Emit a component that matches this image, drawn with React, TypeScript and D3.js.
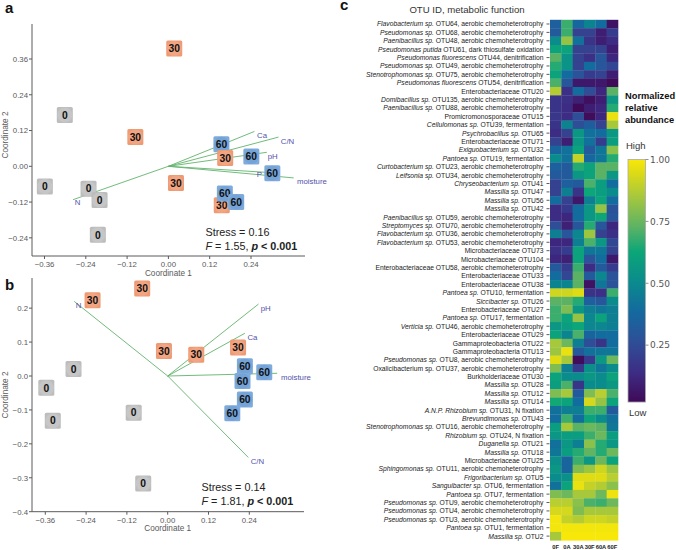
import React from "react";
import * as d3 from "d3";

const W = 676, H = 550;
const FONT = "'Liberation Sans', Arial, sans-serif";
const AXC = "#5a5a5a";
const LABC = "#5252ac";
const GREEN = "#62b36c";

// Panel a
const aGroups = [30, 0, 0, 0, 0, 0, 60, 60, 60, 60, 60, 30, 30, 30, 30];
const aX = [0.155, -0.301, -0.359, -0.232, -0.2, -0.205, 0.154, 0.241, 0.302, 0.164, 0.197, 0.017, -0.096, 0.165, 0.022];
const aY = [-0.131, 0.172, -0.068, -0.075, -0.113, -0.23, 0.074, 0.033, -0.023, -0.091, -0.12, 0.395, 0.098, 0.028, -0.056];
const aVecNames = ["Ca", "C/N", "pH", "P", "moisture", "N"];
const aVecX = [0.25, 0.32, 0.286, 0.281, 0.364, -0.277];
const aVecY = [0.117, 0.098, 0.047, -0.02, -0.039, -0.112];
const aLabX = [0.272, 0.346, 0.303, 0.264, 0.417, -0.264];
const aLabY = [0.106, 0.084, 0.035, -0.028, -0.051, -0.122];
const aXTicks = [-0.36, -0.24, -0.12, 0, 0.12, 0.24];
const aYTicks = [0.36, 0.24, 0.12, 0, -0.12, -0.24];

// Panel b
const bGroups = [30, 30, 30, 30, 30, 0, 0, 0, 0, 0, 60, 60, 60, 60, 60];
const bX = [-0.075, -0.221, -0.011, 0.084, 0.207, -0.277, -0.357, -0.338, -0.1, -0.072, 0.227, 0.284, 0.22, 0.227, 0.19];
const bY = [0.258, 0.223, 0.074, 0.063, 0.084, 0.021, -0.035, -0.132, -0.108, -0.317, 0.029, 0.011, -0.015, -0.069, -0.11];
const bVecNames = ["pH", "Ca", "moisture", "C/N", "N"];
const bVecX = [0.267, 0.227, 0.322, 0.237, -0.275];
const bVecY = [0.212, 0.126, 0.008, -0.24, 0.22];
const bLabX = [0.288, 0.249, 0.377, 0.264, -0.262];
const bLabY = [0.2, 0.114, -0.005, -0.251, 0.21];
const bXTicks = [-0.36, -0.24, -0.12, 0, 0.12, 0.24];
const bYTicks = [0.2, 0.1, 0, -0.1, -0.2, -0.3, -0.4];

// Panel c
const columns = ["0F", "0A", "30A", "30F", "60A", "60F"];
const otuItalic = [
  "Flavobacterium sp.", "Pseudomonas sp.", "Paenibacillus sp.", "Pseudomonas putida", "Pseudomonas fluorescens", "Pseudomonas sp.", "Stenotrophomonas sp.", "Pseudomonas fluorescens", "",
  "Domibacillus sp.", "Paenibacillus sp.", "", "Cellulomonas sp.", "Psychrobacillus sp.", "", "Exiguobacterium sp.", "Pantoea sp.", "Curtobacterium sp.", "Leifsonia sp.", "Chryseobacterium sp.",
  "Massilia sp.", "Massilia sp.", "Massilia sp.", "Paenibacillus sp.", "Streptomyces sp.", "Flavobacterium sp.", "Flavobacterium sp.", "", "", "", "", "",
  "Pantoea sp.", "Siccibacter sp.", "", "Pantoea sp.", "Verticia sp.", "", "", "", "Pseudomonas sp.", "", "", "Massilia sp.", "Massilia sp.", "Massilia sp.",
  "A.N.P. Rhizobium sp.", "Brevundimonas sp.", "Stenotrophomonas sp.", "Rhizobium sp.", "Duganella sp.", "Massilia sp.", "", "Sphingomonas sp.", "Frigoribacterium sp.", "Sanguibacter sp.",
  "Pantoea sp.", "Pseudomonas sp.", "Pseudomonas sp.", "Pseudomonas sp.", "Pantoea sp.", "Massilia sp.",
];
const otuRest = [
  "OTU64, aerobic chemoheterotrophy", "OTU68, aerobic chemoheterotrophy", "OTU48, aerobic chemoheterotrophy", "OTU61, dark thiosulfate oxidation", "OTU44, denitrification", "OTU49, aerobic chemoheterotrophy", "OTU75, aerobic chemoheterotrophy", "OTU54, denitrification", "Enterobacteriaceae OTU20",
  "OTU135, aerobic chemoheterotrophy", "OTU88, aerobic chemoheterotrophy", "Promicromonosporaceae OTU15", "OTU39, fermentation", "OTU65", "Enterobacteriaceae OTU71", "OTU32", "OTU19, fermentation", "OTU23, aerobic chemoheterotrophy", "OTU34, aerobic chemoheterotrophy", "OTU41",
  "OTU47", "OTU56", "OTU42", "OTU59, aerobic chemoheterotrophy", "OTU70, aerobic chemoheterotrophy", "OTU36, aerobic chemoheterotrophy", "OTU53, aerobic chemoheterotrophy", "Microbacteriaceae OTU73", "Microbacteriaceae OTU104", "Enterobacteriaceae OTU58, aerobic chemoheterotrophy", "Enterobacteriaceae OTU33", "Enterobacteriaceae OTU38",
  "OTU10, fermentation", "OTU26", "Enterobacteriaceae OTU27", "OTU17, fermentation", "OTU46, aerobic chemoheterotrophy", "Enterobacteriaceae OTU29", "Gammaproteobacteria OTU22", "Gammaproteobacteria OTU13", "OTU8, aerobic chemoheterotrophy", "Oxalicibacterium sp. OTU37, aerobic chemoheterotrophy", "Burkholderiaceae OTU30", "OTU28", "OTU12", "OTU14",
  "OTU31, N fixation", "OTU43", "OTU16, aerobic chemoheterotrophy", "OTU24, N fixation", "OTU21", "OTU18", "Microbacteriaceae OTU25", "OTU11, aerobic chemoheterotrophy", "OTU5", "OTU6, fermentation",
  "OTU7, fermentation", "OTU9, aerobic chemoheterotrophy", "OTU4, aerobic chemoheterotrophy", "OTU3, aerobic chemoheterotrophy", "OTU1, fermentation", "OTU2",
];
const abundance = [
  [.33, .68, .36, .47, .38, .03], [.30, .68, .2, .2, .07, .18], [.5, .82, .4, .15, .07, .12], [.6, .6, .2, .2, .2, .07],
  [.72, .53, .2, .13, .28, .1], [.65, .53, .2, .38, .28, .22], [.6, .38, .27, .18, .2, .07], [.7, .28, .05, .05, .05, 0],
  [.87, .13, .38, .25, .1, .72], [.15, .13, .08, .02, .07, .55], [.15, .12, 0, .07, .1, .65], [.16, .12, .25, .01, .1, .97],
  [.15, .47, .25, .32, .2, .85], [.12, .2, .55, .4, .38, .55], [.2, .07, .55, .4, .18, .58], [.35, .4, .6, .3, .42, .8],
  [.5, .4, .9, .36, .42, .65], [.33, .3, .65, .6, .72, .72], [.3, .3, .55, .6, .72, .55], [.2, .33, .3, .7, .58, .38],
  [.2, .45, .15, .62, .58, .5], [.38, .2, .05, .45, .6, .38], [.12, .17, .38, .55, .82, .27], [.12, .1, .38, .55, .62, .28],
  [.25, .08, .28, .65, .28, .1], [.45, .28, .48, .83, .2, .13], [.1, .1, .45, .7, .55, .22], [.13, .18, .6, .42, .42, .2],
  [.1, .08, .6, .27, .38, .05], [.3, .18, .68, .12, .3, .18], [.38, .22, .72, .3, .48, .27], [.47, .47, .72, .03, .42, .27],
  [.92, .92, .95, .15, .13, .68], [.72, .72, .65, .33, .28, .5], [.68, .78, .55, .45, .42, .45], [.68, .6, .82, .48, .6, .45],
  [.55, .58, .62, .48, .48, .45], [.6, .47, .7, .35, .38, .38], [.85, .75, .45, .25, .15, .38], [.83, .97, .3, .4, .42, .42],
  [.95, .85, .01, .17, .55, .75], [.78, .45, .17, .52, .42, .5], [.6, .5, .5, .55, .5, .6], [.58, .7, .15, .5, .5, .55],
  [.78, .85, .3, .78, .88, .7], [.63, .6, .38, .93, .82, .6], [.4, .45, .45, .68, .68, .3], [.38, .68, .38, .6, .5, .4],
  [.58, .85, .72, .75, .72, .42], [.55, .58, .58, .68, .75, .58], [.4, .55, .45, .8, .65, .55], [.42, .58, .65, .73, .65, .75],
  [.52, .35, .68, .55, .75, .6], [.55, .35, .78, .83, .92, .83], [.5, .52, .95, .95, .95, .88], [.4, .6, .97, .9, .87, .8],
  [.78, .75, .85, .85, .75, .98], [.88, .88, .8, .7, .68, .75], [.93, .93, .78, .85, .85, .85], [.99, .9, .87, .92, .92, .9],
  [.99, .99, .99, .99, .99, .99], [.85, 1, 1, 1, 1, 1],
];
const legendTicks = [1, 0.75, 0.5, 0.25];
const colorStops = [0, 0.12, 0.25, 0.37, 0.5, 0.62, 0.72, 0.85, 0.95, 1];
const colorValues = ["#3f0a58", "#3d2c84", "#2e4f98", "#14699f", "#0a8c8c", "#0ca678", "#5bb265", "#a8c83c", "#e0dc14", "#f7e80a"];

const groupStyle: Record<number, { sq: string; circ: string }> = {
  0: { sq: "#bdbdbd", circ: "#c6c6c6" },
  30: { sq: "#ee9a73", circ: "#f2a583" },
  60: { sq: "#7fabdc", circ: "#74a3d8" },
};

type ScatterProps = {
  groups: number[]; xs: number[]; ys: number[];
  vecNames: string[]; vecX: number[]; vecY: number[]; labX: number[]; labY: number[];
  xTicks: number[]; yTicks: number[]; yFmt: string;
  xScale: d3.ScaleLinear<number, number>; yScale: d3.ScaleLinear<number, number>;
  axisTop: number; axisBottom: number; axisRight: number; titleY: number; yTitleCenter: number;
  stressX: number; stressY: number; stress: string; fStat: string;
};

function Scatter(p: ScatterProps) {
  const left = 32;
  const ox = p.xScale(0), oy = p.yScale(0);
  return (
    <g fontFamily={FONT}>
      <line x1={left} x2={left} y1={p.axisTop} y2={p.axisBottom} stroke={AXC} />
      <line x1={left} x2={p.axisRight} y1={p.axisBottom} y2={p.axisBottom} stroke={AXC} />
      {p.xTicks.map((t) => (
        <g key={t}>
          <line x1={p.xScale(t)} x2={p.xScale(t)} y1={p.axisBottom} y2={p.axisBottom + 3} stroke={AXC} />
          <text x={p.xScale(t)} y={p.axisBottom + 11} fontSize={7.8} textAnchor="middle" fill={AXC}>{d3.format(".2f")(t)}</text>
        </g>
      ))}
      {p.yTicks.map((t) => (
        <g key={t}>
          <line x1={left - 3} x2={left} y1={p.yScale(t)} y2={p.yScale(t)} stroke={AXC} />
          <text x={left - 4} y={p.yScale(t) + 2.8} fontSize={7.8} textAnchor="end" fill={AXC}>{d3.format(p.yFmt)(t)}</text>
        </g>
      ))}
      <text x={ox} y={p.titleY} fontSize={8.2} textAnchor="middle" fill={AXC}>Coordinate 1</text>
      <text transform={`translate(7.5,${p.yTitleCenter}) rotate(-90)`} fontSize={8.2} textAnchor="middle" fill={AXC}>Coordinate 2</text>
      {p.vecNames.map((n, i) => (
        <line key={n} x1={ox} y1={oy} x2={p.xScale(p.vecX[i])} y2={p.yScale(p.vecY[i])} stroke={GREEN} strokeWidth={0.9} />
      ))}
      {p.groups.map((g, i) => {
        const cx = p.xScale(p.xs[i]), cy = p.yScale(p.ys[i]);
        return (
          <g key={i}>
            <rect x={cx - 8} y={cy - 8} width={16} height={16} rx={1.5} fill={groupStyle[g].sq} />
            <circle cx={cx} cy={cy} r={7.5} fill={groupStyle[g].circ} />
            <text x={cx} y={cy + 3.7} fontSize={10.3} fontWeight="bold" textAnchor="middle" fill="#111">{g}</text>
          </g>
        );
      })}
      {p.vecNames.map((n, i) => (
        <text key={n} x={p.xScale(p.labX[i])} y={p.yScale(p.labY[i]) + 2.8} fontSize={7.8} textAnchor="middle" fill={LABC}>{n}</text>
      ))}
      <text x={p.stressX} y={p.stressY} fontSize={10.8} fill="#222">{p.stress}</text>
      <text x={p.stressX} y={p.stressY + 14} fontSize={10.8} fill="#222">
        <tspan fontStyle="italic">F</tspan>{` = ${p.fStat}, `}
        <tspan fontWeight="bold" fontStyle="italic">p</tspan>
        <tspan fontWeight="bold">{" < 0.001"}</tspan>
      </text>
    </g>
  );
}

export default function App() {
  const axScale = d3.scaleLinear().domain([0, 0.24]).range([168.4, 251]);
  const ayScale = d3.scaleLinear().domain([0, 0.36]).range([166.3, 59]);
  const bxScale = d3.scaleLinear().domain([0, 0.24]).range([167.7, 249.3]);
  const byScale = d3.scaleLinear().domain([0, -0.4]).range([376, 511.7]);

  const rowIdx = otuRest.map((_, i) => i);
  const rowScale = d3.scaleBand<number>().domain(rowIdx).range([19.8, 540.3]);
  const colScale = d3.scaleBand<string>().domain(columns).range([550, 618]);
  const color = d3.scaleLinear<string>().domain(colorStops).range(colorValues).interpolate(d3.interpolateRgb);
  const legendY = d3.scaleLinear().domain([0, 1]).range([407, 159.5]);

  return (
    <svg width={W} height={H} viewBox={`0 0 ${W} ${H}`} style={{ position: "absolute", left: 0, top: 0, background: "#fff" }}>
      <defs>
        <linearGradient id="bar" x1="0" x2="0" y1="1" y2="0">
          {colorStops.map((s, i) => <stop key={s} offset={s} stopColor={colorValues[i]} />)}
        </linearGradient>
      </defs>
      <g fontFamily={FONT} fontWeight="bold" fontSize={15} fill="#111">
        <text x={5} y={13}>a</text>
        <text x={5} y={290}>b</text>
        <text x={340} y={10}>c</text>
      </g>
      <Scatter groups={aGroups} xs={aX} ys={aY} vecNames={aVecNames} vecX={aVecX} vecY={aVecY} labX={aLabX} labY={aLabY}
        xTicks={aXTicks} yTicks={aYTicks} yFmt=".2f" xScale={axScale} yScale={ayScale}
        axisTop={24} axisBottom={256} axisRight={305} titleY={276} yTitleCenter={135}
        stressX={205.5} stressY={236} stress="Stress = 0.16" fStat="1.55" />
      <Scatter groups={bGroups} xs={bX} ys={bY} vecNames={bVecNames} vecX={bVecX} vecY={bVecY} labX={bLabX} labY={bLabY}
        xTicks={bXTicks} yTicks={bYTicks} yFmt=".1f" xScale={bxScale} yScale={byScale}
        axisTop={278} axisBottom={511.7} axisRight={304} titleY={531} yTitleCenter={395}
        stressX={201.5} stressY={490.5} stress="Stress = 0.14" fStat="1.81" />

      <g fontFamily={FONT}>
        <text x={467} y={12.5} fontSize={9.6} textAnchor="middle" fill="#333">OTU ID, metabolic function</text>
        {rowIdx.map((i) => {
          const y = rowScale(i)!, bw = rowScale.bandwidth();
          return (
            <g key={i}>
              <text x={543.5} y={y + bw / 2 + 2.5} fontSize={6.75} textAnchor="end" fill="#222">
                {otuItalic[i] ? <tspan fontStyle="italic">{otuItalic[i] + " "}</tspan> : null}
                {otuRest[i]}
              </text>
              <line x1={546.5} x2={549.5} y1={y + bw / 2} y2={y + bw / 2} stroke="#333" strokeWidth={0.8} />
              {columns.map((c, j) => (
                <rect key={c} x={colScale(c)} y={y} width={colScale.bandwidth() + 0.3} height={bw + 0.3} fill={color(abundance[i][j])} />
              ))}
            </g>
          );
        })}
        {columns.map((c) => (
          <text key={c} x={colScale(c)! + colScale.bandwidth() / 2} y={548.8} fontSize={5.8} fontWeight="bold" textAnchor="middle" fill="#222">{c}</text>
        ))}
        <g fontSize={9.3} fontWeight="bold" fill="#111">
          <text x={625} y={99}>Normalized</text>
          <text x={625} y={111}>relative</text>
          <text x={625} y={122.5}>abundance</text>
        </g>
        <text x={626} y={148.5} fontSize={9.5} fill="#333">High</text>
        <rect x={628} y={legendY(1)} width={17.5} height={legendY(0.02) - legendY(1)} fill="url(#bar)" stroke="#aaa" strokeWidth={0.8} />
        {legendTicks.map((t) => (
          <g key={t}>
            <line x1={645.5} x2={648.5} y1={legendY(t)} y2={legendY(t)} stroke="#777" strokeWidth={0.8} />
            <text x={650} y={legendY(t) + 3.3} fontSize={9} fontFamily="'DejaVu Sans', sans-serif" fill="#555">{d3.format(".2f")(t)}</text>
          </g>
        ))}
        <text x={629} y={416} fontSize={9.5} fill="#333">Low</text>
      </g>
    </svg>
  );
}
